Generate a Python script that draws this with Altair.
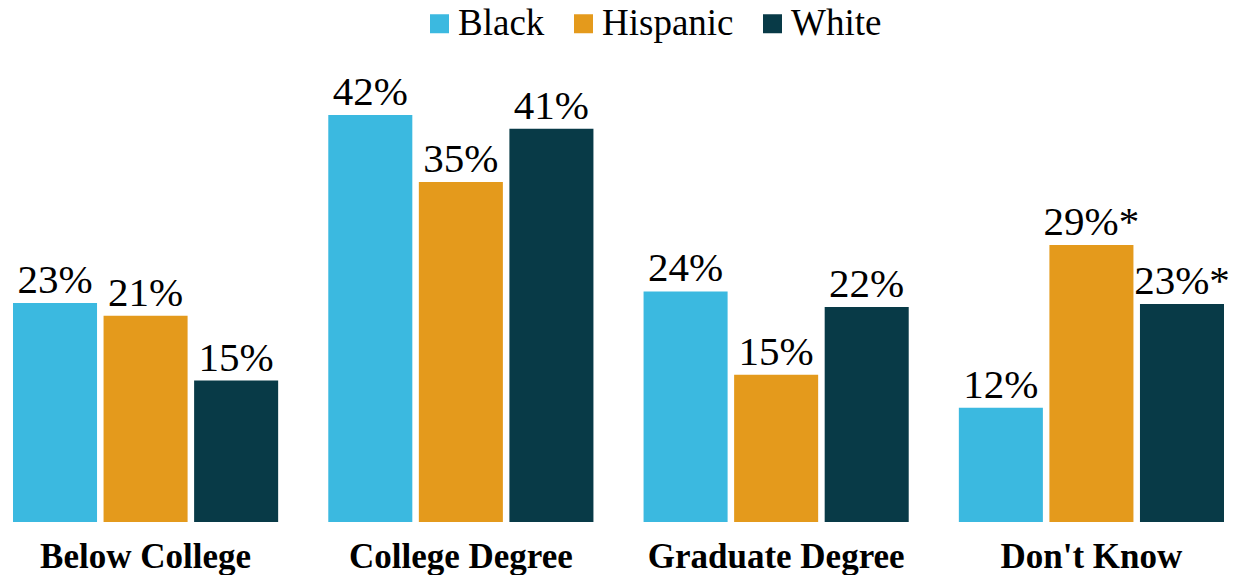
import altair as alt
import pandas as pd

categories = ["Below College", "College Degree", "Graduate Degree", "Don't Know"]
groups = ["Black", "Hispanic", "White"]
black_values = [22.6, 42.0, 23.8, 11.8]
hispanic_values = [21.3, 35.1, 15.2, 28.6]
white_values = [14.6, 40.6, 22.2, 22.5]
black_labels = ["23%", "42%", "24%", "12%"]
hispanic_labels = ["21%", "35%", "15%", "29%*"]
white_labels = ["15%", "41%", "22%", "23%*"]
colors = ["#3bb9e0", "#e49a1c", "#083a47"]

rows = []
for g, vals, labs in zip(groups, [black_values, hispanic_values, white_values],
                         [black_labels, hispanic_labels, white_labels]):
    for c, v, l in zip(categories, vals, labs):
        rows.append({"category": c, "group": g, "value": v, "label": l})
df = pd.DataFrame(rows)

FONT = "Liberation Serif"

x = alt.X("category:N", sort=categories, title=None,
          scale=alt.Scale(paddingInner=0.159, paddingOuter=0),
          axis=alt.Axis(labelAngle=0, labelFont=FONT, labelFontSize=35,
                        labelFontWeight="bold", labelColor="#000000",
                        labelLimit=0,
                        ticks=False, tickSize=0, domain=False, labelPadding=17))
xo = alt.XOffset("group:N", sort=groups,
                 scale=alt.Scale(paddingInner=0.072, paddingOuter=0))
y = alt.Y("value:Q", axis=None, scale=alt.Scale(domain=[0, 48.2], nice=False))

bars = alt.Chart(df).mark_bar().encode(
    x=x, xOffset=xo, y=y,
    color=alt.Color("group:N", sort=groups,
                    scale=alt.Scale(domain=groups, range=colors),
                    legend=alt.Legend(orient="none", legendX=408, legendY=-50,
                                      direction="horizontal", title=None,
                                      symbolType="square", symbolSize=361,
                                      symbolStrokeWidth=0,
                                      labelFont=FONT, labelFontSize=37,
                                      labelColor="#000000", labelOffset=0,
                                      labelLimit=0,
                                      columnPadding=20, padding=0)),
)

text = alt.Chart(df).mark_text(font=FONT, fontSize=41, color="#000000",
                               align="center", baseline="alphabetic", dy=-10).encode(
    x=alt.X("category:N", sort=categories), xOffset=xo, y=y, text="label:N"
)

chart = (bars + text).properties(
    width=1211, height=467,
    autosize=alt.AutoSizeParams(type="none"),
    padding={"left": 5, "top": 47, "right": 8, "bottom": 53},
).configure_view(stroke=None)

chart.save("out.html", embed_options={"renderer": "svg", "actions": False})
